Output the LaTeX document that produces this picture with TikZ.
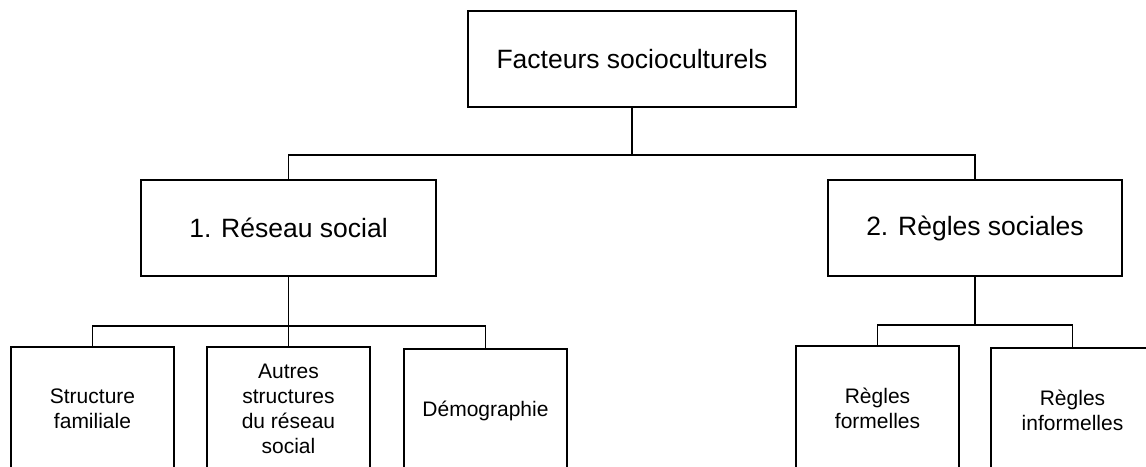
\documentclass[tikz,border=0pt]{standalone}
\usepackage{fontspec}
\setmainfont{Liberation Sans}
\usetikzlibrary{positioning,calc}

\begin{document}
   \begin{tikzpicture}[x=1pt, y=-1pt,
         box/.style={draw, line width=1.8pt, inner sep=0pt, outer sep=0pt, align=center},
         bigbox/.style={box, minimum height=96pt, font=\fontsize{26.5}{30}\selectfont},
         smallbox/.style={box, minimum width=163pt, minimum height=124pt,
            font=\fontsize{21}{25}\selectfont},
         link/.style={line width=1.4pt}]
      \useasboundingbox (0,0) rectangle (1146,466);
      \clip (0,0) rectangle (1146,466);

      % top level
      \node[bigbox, minimum width=328pt] (f0) at (632,59) {Facteurs socioculturels};

      % second level
      \node[bigbox, minimum width=295pt, below left=73pt and 32pt of f0]  (n1) {1. Réseau social};
      \node[bigbox, minimum width=294pt, below right=73pt and 32pt of f0] (n2) {2. Règles sociales};

      % reseau social
      \node[smallbox, below=71pt of n1]    (n12) {Autres\\structures\\du réseau\\social};
      \node[smallbox, left=33pt of n12]    (n11) {Structure\\familiale};
      \node[smallbox, right=34pt of n12, yshift=-2pt] (n13) {Démographie};

      % regles sociales
      \node[smallbox, below left=70pt and 16pt of n2.south] (n21) {Règles\\formelles};
      \node[smallbox, right=32pt of n21, yshift=-2pt]       (n22) {Règles\\informelles};

      % connectors
      \coordinate (j0) at ($(f0.south)+(0,48)$);
      \draw[link] (f0.south) -- (j0);
      \draw[link] (n1.north) |- (j0) -| (n2.north);

      \coordinate (j1) at ($(n1.south)+(0,50)$);
      \draw[link] (n1.south) -- (n12.north);
      \draw[link] (n11.north) |- (j1) -| (n13.north);

      \coordinate (j2) at ($(n2.south)+(0,49)$);
      \draw[link] (n2.south) -- (j2);
      \draw[link] (n21.north) |- (j2) -| (n22.north);
   \end{tikzpicture}
\end{document}
